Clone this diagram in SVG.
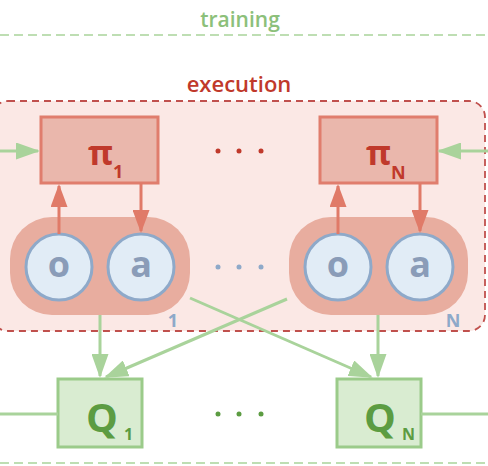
<svg xmlns="http://www.w3.org/2000/svg" width="488" height="466" viewBox="0 0 488 466">
<style>
  .lbl { font-family: "Open Sans", "Noto Sans", sans-serif; }
  .green-dash { stroke: #a9d39b; stroke-width: 1.5; stroke-dasharray: 9 5; fill: none; }
  .pi-box { fill: #eab7ac; stroke: #e07d6d; stroke-width: 3; }
  .pill { fill: #e8ad9f; }
  .obs { fill: #e1ecf6; stroke: #8ea9c9; stroke-width: 3; }
  .q-box { fill: #d9ecd1; stroke: #9bcb8a; stroke-width: 3; }
  .red-line { stroke: #e07a68; stroke-width: 3; fill: none; }
  .green-line { stroke: #a9d39b; stroke-width: 3; fill: none; }
  .pi-txt { fill: #c0392b; font-weight: bold; }
  .ob-txt { fill: #8a9cb8; font-weight: bold; font-size: 36px; text-anchor: middle; }
  .q-txt { fill: #5c9c42; font-weight: bold; }
  .idx { fill: #8ea9c9; font-weight: bold; font-size: 18px; }
</style>
<defs>
  <marker id="ahRed" markerUnits="userSpaceOnUse" markerWidth="23" markerHeight="17" refX="21" refY="8.5" orient="auto">
    <path d="M0,0 L23,8.5 L0,17 z" fill="#e07a68"/>
  </marker>
  <marker id="ahGreen" markerUnits="userSpaceOnUse" markerWidth="24" markerHeight="17" refX="22" refY="8.5" orient="auto">
    <path d="M0,0 L24,8.5 L0,17 z" fill="#a9d39b"/>
  </marker>
</defs>

<rect width="488" height="466" fill="#ffffff"/>

<!-- training region -->
<text class="lbl" x="240" y="27" font-size="21" fill="#8cc07a" text-anchor="middle" font-weight="600">training</text>
<line class="green-dash" x1="0" y1="35" x2="488" y2="35"/>
<line class="green-dash" x1="0" y1="463" x2="488" y2="463"/>

<!-- execution region -->
<g id="execution">
  <rect x="-8" y="101" width="493" height="230" rx="16" fill="#fbe8e5" stroke="#c0504d" stroke-width="1.8" stroke-dasharray="7 5"/>
  <text class="lbl" x="239" y="92" font-size="22" fill="#c0392b" text-anchor="middle" font-weight="600">execution</text>
</g>

<!-- agent 1 -->
<g id="agent1">
  <rect class="pill" x="10" y="217" width="180" height="98" rx="42"/>
  <circle class="obs" cx="59" cy="267" r="33"/>
  <circle class="obs" cx="141" cy="267" r="33"/>
  <text class="lbl ob-txt" x="59" y="277">o</text>
  <text class="lbl ob-txt" x="141" y="277">a</text>
  <text class="lbl idx" x="173" y="327" text-anchor="middle">1</text>
</g>

<!-- agent N -->
<g id="agentN">
  <rect class="pill" x="289" y="217" width="179" height="98" rx="42"/>
  <circle class="obs" cx="338" cy="267" r="33"/>
  <circle class="obs" cx="420" cy="267" r="33"/>
  <text class="lbl ob-txt" x="338" y="277">o</text>
  <text class="lbl ob-txt" x="420" y="277">a</text>
  <text class="lbl idx" x="453" y="327" text-anchor="middle">N</text>
</g>

<!-- policy 1 -->
<g id="pi1">
  <rect class="pi-box" x="41" y="117" width="117" height="66"/>
  <text class="lbl pi-txt" x="88" y="165" font-size="34">π</text>
  <text class="lbl pi-txt" x="113" y="178" font-size="18">1</text>
</g>

<!-- policy N -->
<g id="piN">
  <rect class="pi-box" x="320" y="117" width="117" height="66"/>
  <text class="lbl pi-txt" x="366" y="165" font-size="34">π</text>
  <text class="lbl pi-txt" x="391" y="179" font-size="18">N</text>
</g>

<!-- Q1 -->
<g id="q1">
  <rect class="q-box" x="58" y="379" width="84" height="68"/>
  <text class="lbl q-txt" x="86" y="432" font-size="40">Q</text>
  <text class="lbl q-txt" x="124" y="440" font-size="16">1</text>
</g>

<!-- QN -->
<g id="qN">
  <rect class="q-box" x="337" y="379" width="84" height="68"/>
  <text class="lbl q-txt" x="364" y="432" font-size="40">Q</text>
  <text class="lbl q-txt" x="402" y="440" font-size="16">N</text>
</g>

<!-- ellipses -->
<g id="dots">
  <circle cx="218" cy="151" r="2.5" fill="#c0392b"/>
  <circle cx="239" cy="151" r="2.5" fill="#c0392b"/>
  <circle cx="261" cy="151" r="2.5" fill="#c0392b"/>
  <circle cx="218" cy="267" r="2.5" fill="#8ea9c9"/>
  <circle cx="239" cy="267" r="2.5" fill="#8ea9c9"/>
  <circle cx="261" cy="267" r="2.5" fill="#8ea9c9"/>
  <circle cx="218" cy="414" r="2.5" fill="#5c9c42"/>
  <circle cx="239" cy="414" r="2.5" fill="#5c9c42"/>
  <circle cx="261" cy="414" r="2.5" fill="#5c9c42"/>
</g>

<!-- connectors -->
<g id="connectors">
  <line class="red-line" x1="59" y1="234" x2="59" y2="186" marker-end="url(#ahRed)"/>
  <line class="red-line" x1="141" y1="183" x2="141" y2="231" marker-end="url(#ahRed)"/>
  <line class="red-line" x1="338" y1="234" x2="338" y2="186" marker-end="url(#ahRed)"/>
  <line class="red-line" x1="420" y1="183" x2="420" y2="231" marker-end="url(#ahRed)"/>

  <line class="green-line" x1="0" y1="151" x2="38" y2="151" marker-end="url(#ahGreen)"/>
  <line class="green-line" x1="488" y1="151" x2="439" y2="151" marker-end="url(#ahGreen)"/>

  <line class="green-line" x1="100" y1="315" x2="100" y2="376" marker-end="url(#ahGreen)"/>
  <line class="green-line" x1="378" y1="315" x2="378" y2="376" marker-end="url(#ahGreen)"/>
  <line class="green-line" x1="190" y1="298" x2="371" y2="377" marker-end="url(#ahGreen)"/>
  <line class="green-line" x1="287" y1="299" x2="106" y2="377" marker-end="url(#ahGreen)"/>

  <line class="green-line" x1="0" y1="414" x2="58" y2="414"/>
  <line class="green-line" x1="421" y1="414" x2="488" y2="414"/>
</g>
</svg>
